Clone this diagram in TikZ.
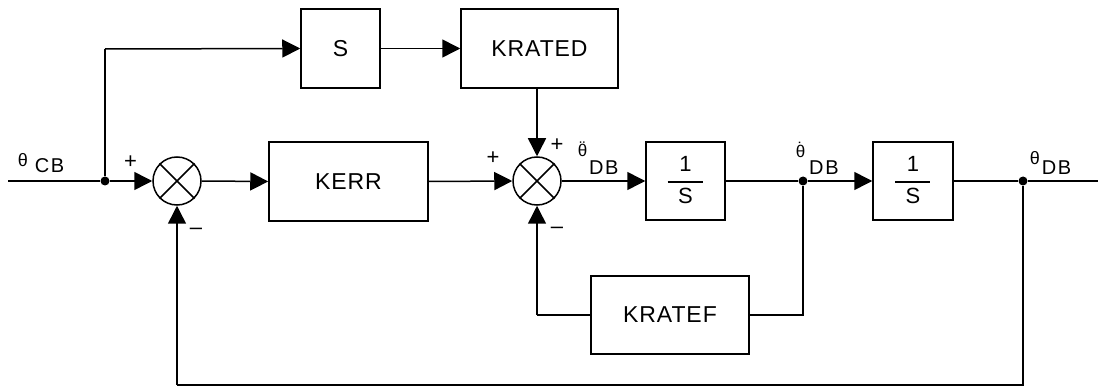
\documentclass[tikz,border=0pt]{standalone}
\usepackage{fontspec}
\setmainfont{Liberation Sans}
\newfontfamily\boxfont{Liberation Sans}[LetterSpace=4]
\newfontfamily\lblfont{Liberation Sans}[LetterSpace=8]
\usetikzlibrary{arrows.meta,calc}
\begin{document}
\begin{tikzpicture}[x=1pt,y=-1pt,
  line width=1.5pt,
  blk/.style={draw, line width=1.5pt, inner sep=0pt, font=\boxfont\fontsize{23}{23}\selectfont},
  sumj/.style={draw, circle, line width=1.5pt, minimum size=48pt, inner sep=0pt},
  jdot/.style={fill, circle, inner sep=0pt, minimum size=9pt},
  lbl/.style={inner sep=0pt, font=\lblfont\fontsize{20}{20}\selectfont},
  sgn/.style={inner sep=0pt, font=\fontsize{22}{22}\selectfont},
  arr/.style={-{Triangle[length=18pt,width=18pt]}},
  ln/.style={line width=1.5pt}]
\useasboundingbox (0,0) rectangle (1099,387);
% nodes
\coordinate (in) at (8,181);
\node[jdot] (d1) at (105,181) {};
\coordinate (top) at (105,49);
\node[blk, minimum width=79pt, minimum height=79pt] (s) at (340.5,48.5) {S};
\node[blk, minimum width=157pt, minimum height=79pt] (krated) at (539.5,48.5) {KRATED};
\node[sumj] (sum1) at (177,181) {};
\node[blk, minimum width=159pt, minimum height=79pt] (kerr) at (348.5,181.5) {KERR};
\node[sumj] (sum2) at (537,181) {};
\node[blk, minimum width=79pt, minimum height=78pt] (i1) at (685.5,181) {};
\node[jdot] (d2) at (803,181) {};
\node[blk, minimum width=80pt, minimum height=78pt] (i2) at (913,181) {};
\node[jdot] (d3) at (1023,181) {};
\coordinate (out) at (1098,181);
\node[blk, minimum width=158pt, minimum height=78pt] (kratef) at (670,315) {KRATEF};
\coordinate (b3) at (1023,385);
\coordinate (b1) at (177,385);
\coordinate (f2) at (803,315);
\coordinate (f1) at (537,315);
% crosses in summing junctions
\foreach \s in {sum1,sum2}{
  \draw[ln] (\s.45) -- (\s.225);
  \draw[ln] (\s.135) -- (\s.315);
}
% integrator contents
\foreach \b in {i1,i2}{
  \node[inner sep=0pt, font=\fontsize{22}{22}\selectfont, anchor=base] (\b num) at ($(\b.center)+(0,-9)$) {1};
  \node[inner sep=0pt, font=\fontsize{22}{22}\selectfont, anchor=base] (\b den) at ($(\b.center)+(0,23)$) {S};
  \draw[ln] ($(\b.center)+(-18,1)$) -- ($(\b.center)+(17,1)$);
}
% connectors
\draw[ln] (in) -- (d1);
\draw[arr] (d1) -- (sum1.west);
\draw[ln] (d1) -- (top);
\draw[arr] (top) -- (s.west);
\draw[arr] (s.east) -- (krated.west);
\draw[arr] (krated.south -| sum2) -- (sum2.north);
\draw[arr] (sum1.east) -- (kerr.west);
\draw[arr] (kerr.east) -- (sum2.west);
\draw[arr] (sum2.east) -- (i1.west);
\draw[ln] (i1.east) -- (d2);
\draw[arr] (d2) -- (i2.west);
\draw[ln] (i2.east) -- (d3);
\draw[ln] (d3) -- (out);
\draw[ln] (d3) -- (b3) -- (b1);
\draw[arr] (b1) -- (sum1.south);
\draw[ln] (d2) -- (f2) -- (kratef.east);
\draw[ln] (kratef.west) -- (f1);
\draw[arr] (f1) -- (sum2.south);
% signs
\node[sgn] (p1) at (130.5,162) {+};
\node[sgn] (m1) at (196,231) {–};
\node[sgn] (p2) at (493,158) {+};
\node[sgn] (p3) at (557,145) {+};
\node[sgn] (m2) at (557,230) {–};
% signal labels
\node[lbl, anchor=base west] (lcb) at (17,173) {{\fontsize{18}{18}\selectfont\raisebox{6pt}{θ}}\hspace{7pt}CB};
\node[lbl, anchor=base west] (lddb) at (577,175) {{\fontsize{17}{17}\selectfont\raisebox{18pt}{\ooalign{θ\cr\hfil\raisebox{3pt}{¨}\hfil\cr}}}\hspace{2pt}DB};
\node[lbl, anchor=base west] (ldb) at (795,175) {{\fontsize{17}{17}\selectfont\raisebox{17pt}{\ooalign{θ\cr\hfil\raisebox{3pt}{˙}\hfil\cr}}}\hspace{4pt}DB};
\node[lbl, anchor=base west] (ldb2) at (1029,175) {{\fontsize{18}{18}\selectfont\raisebox{10pt}{θ}}\hspace{2pt}DB};
\end{tikzpicture}
\end{document}
